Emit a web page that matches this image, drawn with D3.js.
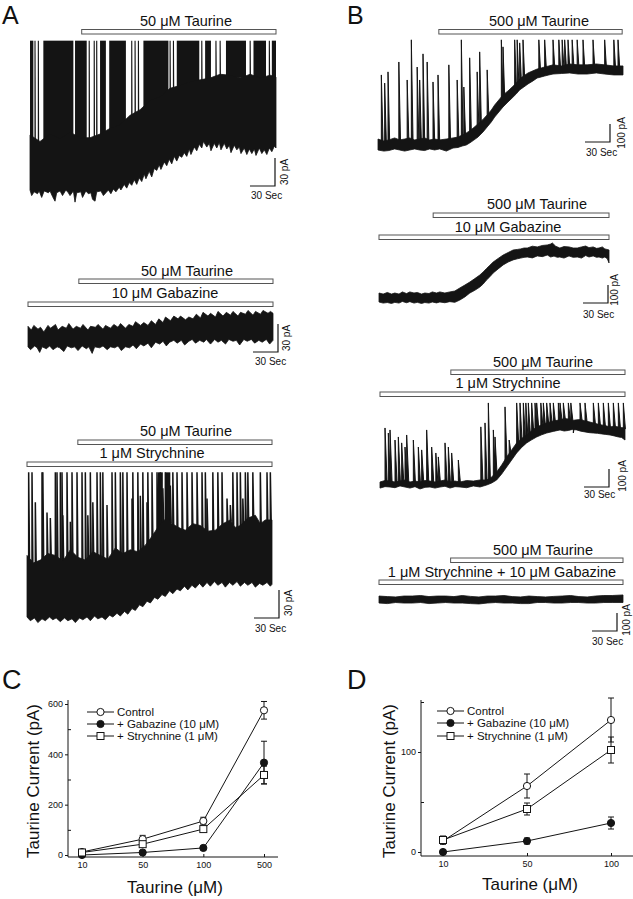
<!DOCTYPE html>
<html>
<head>
<meta charset="utf-8">
<script src="https://cdn.jsdelivr.net/npm/d3@7"></script>
<style>
  body { margin: 0; background: #fff; }
  svg { display: block; }
  text { font-family: "Liberation Sans", Arial, sans-serif; fill: #111; }
</style>
</head>
<body>
<div id="fig"></div>
<script>
// ---- traces: time in s, current in pA ----

// A, control, 50 uM taurine
var a1Lo = [[0,0],[2,-6],[5,-2],[9,-4],[11,-1],[14,-8],[17,-1],[22,-3],[24,-1],[27,-7],[30,-12],[32,-3],[36,-1],[39,-6],[43,0],[46,-3],[48,-6],[52,-1],[54,-13],[56,-3],[61,-2],[63,-8],[67,-1],[70,-4],[73,-3],[75,-10],[78,-12],[80,-2],[85,-1],[88,-6],[91,-3],[94,0],[97,-4],[100,1],[103,-2],[107,3],[109,0],[113,6],[116,2],[119,8],[122,5],[125,11],[128,6],[131,13],[134,9],[137,17],[139,12],[143,20],[146,14],[149,23],[152,21],[155,27],[157,22],[161,30],[164,26],[167,33],[170,28],[173,36],[176,31],[179,37],[182,35],[185,40],[188,36],[191,44],[193,38],[197,46],[200,42],[203,49],[206,45],[208,52],[212,46],[215,50],[217,42],[221,50],[224,45],[227,51],[229,43],[233,50],[236,44],[239,48],[241,40],[245,48],[248,43],[251,46],[253,39],[257,45],[260,38],[263,44],[266,39],[269,44],[271,37],[275,45],[278,39],[281,43],[284,38],[287,45],[290,41],[293,47],[295,45]];
var a1Hi = [[0,59],[12,52],[24,60],[36,55],[48,62],[60,56],[72,56],[84,60],[96,66],[108,70],[120,80],[132,86],[144,96],[156,100],[168,109],[180,112],[192,116],[204,118],[216,120],[228,124],[240,123],[252,120],[264,124],[276,120],[288,123],[295,121]];
var a1Bursts = [[0,4],[16,52],[54,68],[84,91],[95,115],[136,166],[176,203],[210,217],[235,259],[268,283],[290,295]];
var a1Spikes = [[6,160],[10,160],[71,160],[77,160],[80,160],[122,160],[126,160],[130,160],[168,160],[172,160],[206,160],[223,160],[228,160],[264,160],[287,160]];
var a1Taurine = [62, 295];

// A, 10 uM gabazine
var a2Hi = [[0,20],[4,16],[7,21],[12,17],[15,19],[19,14],[24,21],[27,18],[33,22],[36,16],[41,20],[46,18],[49,23],[54,17],[58,20],[63,18],[66,22],[72,16],[75,20],[81,19],[84,22],[90,17],[93,21],[99,18],[103,22],[108,19],[111,23],[117,18],[121,22],[126,20],[129,25],[135,21],[139,24],[144,21],[148,26],[153,22],[157,28],[162,24],[165,30],[171,26],[175,31],[180,28],[183,31],[189,27],[193,30],[198,28],[202,33],[207,29],[210,35],[216,31],[219,34],[225,30],[228,36],[234,31],[238,35],[243,32],[246,36],[252,31],[255,35],[261,33],[264,37],[270,32],[273,36],[279,33],[282,37],[288,34],[291,36],[294,34]];
var a2Lo = [[0,-2],[3,-5],[8,-1],[11,-3],[14,-8],[17,-2],[22,-4],[26,-1],[30,-5],[35,-2],[38,-3],[43,-7],[47,-1],[52,-3],[56,-2],[60,-6],[65,-1],[70,-4],[73,-2],[77,-9],[80,-2],[86,-3],[90,-1],[95,-5],[99,-2],[104,-3],[108,-1],[112,-6],[117,-2],[122,-3],[126,0],[130,-4],[135,1],[139,-1],[144,2],[148,-3],[153,3],[158,1],[162,4],[166,-1],[170,3],[175,5],[179,2],[184,5],[188,0],[193,4],[197,6],[201,2],[206,5],[211,3],[214,6],[219,1],[224,6],[228,3],[232,5],[237,1],[241,6],[246,4],[250,5],[254,0],[259,6],[263,4],[268,6],[272,2],[277,5],[281,3],[286,6],[290,1],[294,5]];
var a2Taurine = [61, 294];
var a2Gabazine = [0, 294];

// A, 1 uM strychnine
var a3Hi = [[0,66],[8,58],[16,61],[25,68],[34,66],[43,60],[52,72],[61,64],[70,61],[79,70],[88,66],[97,62],[106,74],[115,68],[124,72],[133,70],[142,77],[148,84],[154,92],[160,100],[165,104],[169,106],[174,100],[178,98],[184,95],[190,93],[199,100],[208,98],[217,92],[226,93],[235,100],[244,104],[250,96],[256,98],[265,106],[274,109],[280,100],[286,104],[294,104]];
var a3Lo = [[0,0],[4,-4],[9,-1],[13,-6],[18,-2],[22,-4],[27,0],[31,-3],[35,-1],[40,-5],[45,-1],[49,-4],[54,-2],[58,-6],[63,-1],[67,-3],[72,0],[76,-4],[81,1],[85,-2],[90,0],[94,-3],[99,2],[103,0],[108,4],[112,1],[117,6],[121,3],[126,9],[130,7],[135,13],[139,11],[144,17],[148,15],[153,21],[157,19],[162,24],[166,22],[171,28],[175,25],[180,30],[184,28],[189,33],[193,29],[198,34],[202,31],[207,36],[211,32],[216,37],[220,33],[225,38],[229,34],[234,37],[238,32],[243,37],[247,34],[252,38],[256,33],[261,37],[265,34],[270,37],[274,32],[279,36],[283,34],[288,37],[292,33],[294,35]];
var a3Bursts = [[157,163],[166,172]];
var a3Spikes = [[2,160],[6,160],[10,123],[18,160],[19,160],[24,112],[28,106],[34,160],[36,160],[40,160],[42,160],[43,109],[48,160],[52,102],[54,160],[60,160],[66,160],[70,160],[73,109],[76,160],[79,123],[84,160],[88,160],[91,160],[96,120],[102,160],[106,160],[112,160],[115,160],[120,160],[126,127],[127,160],[133,160],[136,130],[139,160],[144,123],[145,160],[150,160],[156,160],[160,160],[163,138],[166,160],[172,141],[175,160],[180,160],[186,160],[192,160],[198,160],[204,160],[210,160],[214,160],[216,127],[223,160],[229,160],[234,160],[240,127],[244,120],[247,160],[252,160],[256,160],[259,127],[262,160],[265,160],[271,160],[280,160],[288,160],[292,160]];
var a3Taurine = [61, 294];
var a3Strychnine = [0, 294];

// B, control, 500 uM taurine
var b1Lo = [[0,0],[7,-6],[13,-3],[20,6],[26,0],[32,-6],[38,0],[44,6],[50,0],[56,-3],[62,6],[68,0],[74,6],[82,-6],[90,11],[96,14],[101,22],[106,28],[110,39],[115,55],[120,72],[126,100],[131,128],[136,156],[140,183],[145,211],[150,239],[156,267],[161,289],[166,312],[170,334],[175,350],[180,367],[186,384],[191,400],[196,406],[200,411],[205,417],[210,422],[220,425],[230,428],[240,422],[251,422],[262,428],[272,422],[283,417],[294,417]];
var b1Hi = [[0,61],[7,50],[13,56],[20,67],[26,56],[32,61],[38,67],[44,56],[50,61],[56,67],[62,56],[68,61],[74,56],[82,61],[90,67],[96,72],[101,83],[106,95],[110,106],[115,125],[120,145],[126,170],[131,195],[136,222],[140,250],[145,278],[150,306],[156,328],[161,350],[166,372],[170,395],[175,412],[180,428],[186,440],[191,450],[196,456],[200,461],[205,467],[210,473],[220,467],[230,478],[240,473],[251,473],[262,478],[272,473],[283,467],[294,467]];
var b1Spikes = [[4,417],[8,372],[12,434],[25,489],[35,389],[40,612],[47,461],[50,389],[54,534],[59,489],[66,378],[72,417],[85,473],[95,389],[100,612],[103,350],[110,512],[119,434],[122,545],[131,445],[148,612],[150,573],[164,612],[167,612],[170,595],[174,612],[193,612],[200,612],[210,612],[217,612],[221,612],[224,612],[228,612],[233,612],[239,612],[246,612],[258,612],[272,612],[283,612],[288,612]];
var b1Taurine = [73, 293];

// B, 10 uM gabazine
var b2Lo = [[0,0],[5,-6],[10,-3],[15,-8],[19,-2],[24,-6],[28,3],[33,-4],[37,2],[42,-6],[46,-2],[51,-8],[55,-3],[60,-6],[64,0],[69,-5],[73,0],[79,-4],[85,2],[91,-2],[97,11],[103,28],[109,50],[115,65],[121,83],[125,100],[129,122],[133,140],[137,161],[143,184],[149,206],[155,222],[161,234],[166,240],[170,244],[174,248],[178,250],[184,245],[190,256],[196,252],[202,261],[206,250],[210,255],[214,248],[217,250],[222,244],[228,256],[233,248],[238,250],[243,244],[248,258],[252,250],[257,256],[261,248],[264,250],[268,244],[271,250],[274,240],[276,217]];
var b2Hi = [[0,50],[5,44],[10,53],[15,44],[19,50],[24,44],[28,56],[33,47],[37,56],[42,50],[46,53],[51,44],[55,50],[60,47],[64,56],[69,50],[73,56],[79,50],[85,56],[91,61],[97,78],[103,94],[109,111],[115,130],[121,150],[125,167],[129,186],[133,204],[137,222],[143,242],[149,261],[155,275],[161,289],[166,292],[170,295],[174,300],[178,300],[184,310],[190,306],[196,314],[202,317],[206,322],[208,328],[212,310],[217,300],[222,308],[228,306],[233,300],[238,300],[243,306],[248,311],[252,302],[257,306],[261,298],[264,300],[268,306],[271,295],[276,289]];
var b2Taurine = [65, 276];
var b2Gabazine = [0, 276];

// B, 1 uM strychnine
var b3Lo = [[0,-6],[6,2],[12,0],[18,-4],[24,6],[30,0],[36,-6],[42,2],[48,-11],[54,-2],[60,0],[66,-6],[72,0],[78,4],[84,-6],[90,2],[96,0],[104,-4],[112,6],[120,0],[128,11],[134,22],[140,39],[146,72],[152,111],[158,150],[164,189],[170,220],[176,245],[182,262],[188,278],[194,290],[200,300],[208,309],[216,317],[221,311],[226,314],[231,320],[236,317],[241,310],[246,306],[251,302],[256,300],[261,298],[266,295],[271,292],[276,289],[281,284],[286,278],[290,275],[294,261]];
var b3Hi = [[0,28],[6,36],[12,33],[18,28],[24,33],[30,39],[36,28],[42,33],[48,28],[54,36],[60,33],[66,28],[72,33],[78,39],[84,28],[90,33],[96,28],[104,36],[112,33],[120,39],[128,39],[134,56],[140,83],[146,122],[152,167],[158,206],[164,245],[170,270],[176,289],[182,312],[188,334],[194,345],[200,356],[208,367],[216,373],[221,380],[226,378],[231,370],[236,373],[241,375],[246,367],[251,362],[256,356],[261,350],[266,345],[271,340],[276,334],[281,338],[286,334],[290,330],[294,328]];
var b3Spikes = [[6,328],[10,300],[12,317],[18,261],[22,278],[26,245],[30,222],[32,289],[40,261],[46,222],[50,206],[56,317],[62,222],[67,189],[70,167],[78,245],[82,222],[86,189],[94,150],[121,334],[126,356],[130,467],[136,317],[138,278],[150,445],[155,261],[164,467],[168,467],[172,467],[175,467],[178,467],[182,467],[186,467],[188,467],[193,467],[196,467],[200,467],[204,467],[208,467],[214,467],[216,467],[220,467],[226,467],[229,467],[232,300],[240,467],[246,467],[256,467],[262,467],[268,467],[274,467],[280,467],[286,467],[292,467]];
var b3Taurine = [85, 294];
var b3Strychnine = [0, 294];

// B, strychnine + gabazine
var b4Hi = [[0,22],[10,19],[20,17],[30,22],[40,22],[50,25],[60,19],[70,22],[80,22],[90,19],[100,25],[110,20],[120,17],[130,22],[140,22],[150,25],[160,19],[170,17],[180,22],[190,19],[200,17],[210,20],[220,22],[230,25],[240,19],[250,17],[260,22],[270,25],[280,25],[293,28]];
var b4Lo = [[0,-17],[10,-20],[20,-14],[30,-17],[40,-17],[50,-14],[60,-20],[70,-17],[80,-14],[90,-17],[100,-17],[110,-20],[120,-22],[130,-17],[140,-14],[150,-17],[160,-17],[170,-20],[180,-20],[190,-14],[200,-14],[210,-17],[220,-17],[230,-14],[240,-14],[250,-17],[260,-17],[270,-14],[280,-14],[293,-14]];
var b4Taurine = [86, 293];
var b4Both = [0, 293];

// ---- dose-response ----
var concC = ["10", "50", "100", "500"];
var ctrlC = [12, 63, 135, 575], ctrlCErr = [8, 15, 15, 35];
var gabC = [0, 10, 28, 367], gabCErr = [3, 5, 5, 85];
var strC = [10, 43, 103, 318], strCErr = [5, 8, 10, 35];

var concD = ["10", "50", "100"];
var ctrlD = [11, 66, 132], ctrlDErr = [3, 12, 22];
var gabD = [0, 11, 29], gabDErr = [2, 3, 6];
var strD = [12, 43, 102], strDErr = [4, 6, 13];

var legendNames = ["Control", "+ Gabazine (10 \u03bcM)", "+ Strychnine (1 \u03bcM)"];

var ink = "#141414";
var svg = d3.select("#fig").append("svg").attr("width", 633).attr("height", 899);
svg.append("rect").attr("width", 633).attr("height", 899).attr("fill", "#fff");

[["A", 2, 24, 25], ["B", 347, 24, 25], ["C", 2, 689, 27], ["D", 347, 689, 27]].forEach(function (p) {
  svg.append("text").attr("x", p[1]).attr("y", p[2]).attr("font-size", p[3]).text(p[0]);
});

function drawTrace(c) {
  var x = d3.scaleLinear().domain([0, c.dur]).range([c.x0, c.x1]);
  var y = d3.scaleLinear().domain([0, c.unitPA]).range([c.yBase, c.yBase - c.unitPx]);
  var bandTop = d3.scaleLinear().domain(c.hi.map(d => d[0])).range(c.hi.map(d => d[1]));
  var peakY = v => y(c.clip != null ? Math.min(v, c.clip) : v);
  var g = svg.append("g");

  (c.bursts || []).forEach(function (b) {
    var bottom = y(Math.min(bandTop(b[0]), bandTop(b[1]))) + 2;
    g.append("rect").attr("x", x(b[0])).attr("width", x(b[1]) - x(b[0]))
      .attr("y", peakY(1e6)).attr("height", bottom - peakY(1e6)).attr("fill", ink);
  });

  (c.spikes || []).forEach(function (s) {
    var base = y(bandTop(s[0])) + 1;
    g.append("path")
      .attr("d", "M" + x(s[0]) + "," + base + "L" + x(s[0]) + "," + peakY(s[1]) + "L" + x(s[0] + c.decay) + "," + base + "Z")
      .attr("fill", ink).attr("stroke", ink).attr("stroke-width", c.sw).attr("stroke-linejoin", "bevel");
  });

  var line = d3.line().x(d => x(d[0])).y(d => y(d[1]));
  g.append("path").attr("d", line(c.hi.concat(c.lo.slice().reverse())) + "Z")
    .attr("fill", ink).attr("stroke", ink).attr("stroke-width", 0.8).attr("stroke-linejoin", "round");

  c.bars.forEach(function (b) {
    g.append("rect").attr("x", x(b.span[0])).attr("y", b.y)
      .attr("width", x(b.span[1]) - x(b.span[0])).attr("height", 4.5)
      .attr("fill", "#fff").attr("stroke", "#555").attr("stroke-width", 1);
    g.append("text").attr("x", b.lx).attr("y", b.ly).attr("text-anchor", "middle")
      .attr("font-size", 14.5).text(b.label);
  });

  var s = c.scale;
  var hx = x(30) - x(0), vy = y(0) - y(c.unitPA);
  g.append("path").attr("d", "M" + (s.x - hx) + "," + s.y + "H" + s.x + "V" + (s.y - vy))
    .attr("fill", "none").attr("stroke", ink).attr("stroke-width", 1.2);
  g.append("text").attr("transform", "translate(" + s.px + "," + s.py + ") rotate(-90)")
    .attr("text-anchor", "middle").attr("font-size", 10).text(c.unitPA + " pA");
  g.append("text").attr("x", s.sx).attr("y", s.sy).attr("font-size", 10).text("30 Sec");
}

var mu = "\u03bcM";
var traces = [
  {x0: 30, x1: 276, dur: 295, yBase: 190, unitPA: 30, unitPx: 28, clip: 160, decay: 0.3, sw: 1.1,
   lo: a1Lo, hi: a1Hi, bursts: a1Bursts, spikes: a1Spikes,
   bars: [{span: a1Taurine, y: 29.5, label: "50 " + mu + " Taurine", lx: 186, ly: 26}],
   scale: {x: 275, y: 186, px: 288, py: 172, sx: 251, sy: 199}},
  {x0: 28, x1: 273, dur: 294, yBase: 345, unitPA: 30, unitPx: 28, decay: 0, sw: 1,
   lo: a2Lo, hi: a2Hi,
   bars: [{span: a2Taurine, y: 279, label: "50 " + mu + " Taurine", lx: 187, ly: 276},
          {span: a2Gabazine, y: 302, label: "10 " + mu + " Gabazine", lx: 165, ly: 298}],
   scale: {x: 278, y: 352, px: 290, py: 338, sx: 255, sy: 365}},
  {x0: 27, x1: 272, dur: 294, yBase: 617, unitPA: 30, unitPx: 28, clip: 155, decay: 1, sw: 1.5,
   lo: a3Lo, hi: a3Hi, spikes: a3Spikes, bursts: a3Bursts,
   bars: [{span: a3Taurine, y: 440, label: "50 " + mu + " Taurine", lx: 186, ly: 436},
          {span: a3Strychnine, y: 462, label: "1  " + mu + " Strychnine", lx: 152, ly: 458}],
   scale: {x: 279, y: 618, px: 292, py: 603, sx: 255, sy: 632}},
  {x0: 378, x1: 623, dur: 294, yBase: 150, unitPA: 100, unitPx: 18, decay: 2, sw: 1,
   lo: b1Lo, hi: b1Hi, spikes: b1Spikes,
   bars: [{span: b1Taurine, y: 29.5, label: "500 " + mu + " Taurine", lx: 539, ly: 26}],
   scale: {x: 610, y: 142, px: 625, py: 133, sx: 586, sy: 156}},
  {x0: 379, x1: 609, dur: 276, yBase: 302, unitPA: 100, unitPx: 18, decay: 0, sw: 1,
   lo: b2Lo, hi: b2Hi,
   bars: [{span: b2Taurine, y: 213, label: "500 " + mu + " Taurine", lx: 537, ly: 209},
          {span: b2Gabazine, y: 235, label: "10 " + mu + " Gabazine", lx: 508, ly: 232}],
   scale: {x: 608, y: 303, px: 618, py: 290, sx: 583, sy: 318}},
  {x0: 380, x1: 625, dur: 294, yBase: 487, unitPA: 100, unitPx: 18, clip: 467, decay: 2.5, sw: 1,
   lo: b3Lo, hi: b3Hi, spikes: b3Spikes,
   bars: [{span: b3Taurine, y: 370, label: "500 " + mu + " Taurine", lx: 543, ly: 367},
          {span: b3Strychnine, y: 392, label: "1 " + mu + " Strychnine", lx: 508, ly: 388}],
   scale: {x: 609, y: 487, px: 626, py: 476, sx: 584, sy: 498}},
  {x0: 379, x1: 623, dur: 293, yBase: 600, unitPA: 100, unitPx: 18, decay: 0, sw: 1,
   lo: b4Lo, hi: b4Hi,
   bars: [{span: b4Taurine, y: 558, label: "500 " + mu + " Taurine", lx: 543, ly: 555},
          {span: b4Both, y: 580, label: "1 " + mu + " Strychnine + 10 " + mu + " Gabazine", lx: 502, ly: 577}],
   scale: {x: 617, y: 631, px: 630, py: 620, sx: 592, sy: 645}}
];
traces.forEach(drawTrace);

function marker(g, kind, cx, cy) {
  if (kind === "square") {
    g.append("rect").attr("x", cx - 3.5).attr("y", cy - 3.5).attr("width", 7).attr("height", 7)
      .attr("fill", "#fff").attr("stroke", ink).attr("stroke-width", 1);
  } else {
    g.append("circle").attr("cx", cx).attr("cy", cy).attr("r", 3.6)
      .attr("fill", kind === "filled" ? ink : "#fff").attr("stroke", ink).attr("stroke-width", 1);
  }
}

function doseChart(c) {
  var g = svg.append("g");
  var x = d3.scalePoint().domain(c.conc).range(c.xr);
  var y = d3.scaleLinear().domain(c.yd).range(c.yr);

  g.append("path").attr("d", "M" + c.ax + "," + c.top + "V" + c.ay + "H" + c.axEnd)
    .attr("fill", "none").attr("stroke", ink).attr("stroke-width", 1);

  var ya = g.append("g").attr("transform", "translate(" + c.ax + ",0)")
    .call(d3.axisLeft(y).tickValues(c.major).tickSize(3).tickPadding(2));
  ya.select(".domain").remove();
  ya.attr("font-family", null).attr("font-size", null);
  ya.selectAll("text").attr("font-size", 9);
  ya.selectAll("line").attr("stroke", ink);
  var ym = g.append("g").attr("transform", "translate(" + c.ax + ",0)")
    .call(d3.axisRight(y).tickValues(c.minor).tickSize(3).tickFormat(""));
  ym.select(".domain").remove();
  ym.selectAll("line").attr("stroke", ink);

  var xa = g.append("g").attr("transform", "translate(0," + c.ay + ")")
    .call(d3.axisBottom(x).tickSize(-3).tickPadding(5));
  xa.select(".domain").remove();
  xa.attr("font-family", null).attr("font-size", null);
  xa.selectAll("text").attr("font-size", 9);
  xa.selectAll("line").attr("stroke", ink);

  g.append("text").attr("x", c.xtx).attr("y", c.xty).attr("text-anchor", "middle")
    .attr("font-size", 17).text("Taurine (\u03bcM)");
  g.append("text").attr("transform", "translate(" + c.ytx + "," + c.yty + ") rotate(-90)")
    .attr("text-anchor", "middle").attr("font-size", 17).text("Taurine Current (pA)");

  c.series.forEach(function (s) {
    var pts = c.conc.map((k, i) => [x(k), y(s.vals[i])]);
    g.append("path").attr("d", d3.line()(pts)).attr("fill", "none").attr("stroke", ink).attr("stroke-width", 1);
    c.conc.forEach(function (k, i) {
      var cx = x(k), t = y(s.vals[i] + s.err[i]), b = y(s.vals[i] - s.err[i]);
      g.append("path").attr("d", "M" + (cx - 3) + "," + t + "H" + (cx + 3) + "M" + cx + "," + t + "V" + b + "M" + (cx - 3) + "," + b + "H" + (cx + 3))
        .attr("fill", "none").attr("stroke", ink).attr("stroke-width", 1);
    });
  });
  c.series.forEach(function (s) {
    c.conc.forEach((k, i) => marker(g, s.kind, x(k), y(s.vals[i])));
  });

  c.series.forEach(function (s, i) {
    var ly = c.legY[i];
    g.append("line").attr("x1", c.legX[0]).attr("x2", c.legX[1]).attr("y1", ly).attr("y2", ly)
      .attr("stroke", ink).attr("stroke-width", 1);
    marker(g, s.kind, (c.legX[0] + c.legX[1]) / 2, ly);
    g.append("text").attr("x", c.legX[1] + 3).attr("y", ly).attr("dy", "0.36em")
      .attr("font-size", 11.5).text(legendNames[i]);
  });
}

doseChart({
  conc: concC, xr: [82, 264], yd: [0, 600], yr: [855, 704],
  ax: 68, ay: 857, top: 700, axEnd: 278,
  major: [0, 200, 400, 600], minor: [100, 300, 500],
  xtx: 175, xty: 893, ytx: 39, yty: 781,
  legX: [87, 114], legY: [712, 724, 736],
  series: [
    {vals: ctrlC, err: ctrlCErr, kind: "open"},
    {vals: gabC, err: gabCErr, kind: "filled"},
    {vals: strC, err: strCErr, kind: "square"}
  ]
});

doseChart({
  conc: concD, xr: [443, 611], yd: [0, 100], yr: [852, 752],
  ax: 421, ay: 856, top: 700, axEnd: 633,
  major: [0, 100], minor: [50, 150],
  xtx: 530, xty: 890, ytx: 395, yty: 781,
  legX: [437, 464], legY: [711, 723, 736],
  series: [
    {vals: ctrlD, err: ctrlDErr, kind: "open"},
    {vals: gabD, err: gabDErr, kind: "filled"},
    {vals: strD, err: strDErr, kind: "square"}
  ]
});
</script>
</body>
</html>
